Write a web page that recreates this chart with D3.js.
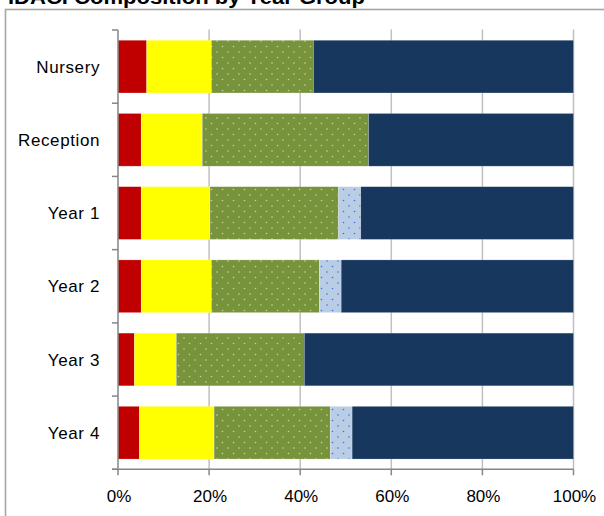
<!DOCTYPE html>
<meta charset="utf-8" />
<style>
  body {
    margin: 0;
    background: #fff;
  }
  text {
    font-family: "Liberation Sans", Arial, sans-serif;
    fill: #000;
  }
  .title {
    font-weight: bold;
    font-size: 20px;
  }
  .cat {
    font-size: 17px;
    letter-spacing: 0.6px;
  }
  .tick-label {
    font-size: 17px;
  }
</style>
<svg width="604" height="516"></svg>
<script src="https://d3js.org/d3.v7.min.js"></script>
<script>
  var categories = ["Nursery", "Reception", "Year 1", "Year 2", "Year 3", "Year 4"];
  var seriesKeys = ["band1", "band2", "band3", "band4", "band5"];
  var band1 = [6.3, 5.1, 5.1, 5.1, 3.6, 4.7];
  var band2 = [14.2, 13.4, 15.1, 15.4, 9.2, 16.4];
  var band3 = [22.4, 36.5, 28.2, 23.7, 28.1, 25.5];
  var band4 = [0, 0, 4.9, 4.8, 0, 4.8];
  var band5 = [57.1, 45.0, 46.7, 51.0, 59.1, 48.6];
  var xTicks = [0, 20, 40, 60, 80, 100];

  var fills = {
    band1: "#c00000",
    band2: "#ffff00",
    band3: "url(#dotGreen)",
    band4: "url(#dotBlue)",
    band5: "#17375e"
  };

  var rows = categories.map((c, i) => ({
    cat: c,
    band1: band1[i],
    band2: band2[i],
    band3: band3[i],
    band4: band4[i],
    band5: band5[i]
  }));

  var svg = d3.select("svg");

  // dotted fills, like the Excel 5% pattern
  var defs = svg.append("defs");
  function dots(id, bg, dot) {
    var p = defs
      .append("pattern")
      .attr("id", id)
      .attr("patternUnits", "userSpaceOnUse")
      .attr("width", 11)
      .attr("height", 11);
    p.append("rect").attr("width", 11).attr("height", 11).attr("fill", bg);
    p.append("circle").attr("cx", 2.5).attr("cy", 2.5).attr("r", 0.8).attr("fill", dot);
    p.append("circle").attr("cx", 8).attr("cy", 8).attr("r", 0.8).attr("fill", dot);
  }
  dots("dotGreen", "#77933c", "#c4d79b");
  dots("dotBlue", "#b9cde5", "#3c6ef0");

  // chart frame (cropped in the picture)
  svg
    .append("rect")
    .attr("x", 5.5)
    .attr("y", 9.5)
    .attr("width", 700)
    .attr("height", 600)
    .attr("fill", "none")
    .attr("stroke", "#a6a6a6")
    .attr("stroke-width", 1.6);

  svg
    .append("text")
    .attr("class", "title")
    .attr("x", 8)
    .attr("y", 4)
    .attr("textLength", 357)
    .attr("lengthAdjust", "spacingAndGlyphs")
    .text("IDACI Composition by Year Group");

  var x = d3.scaleLinear().domain([0, 100]).range([118, 573.5]);
  var y = d3
    .scaleBand()
    .domain(categories)
    .range([30, 469.3])
    .paddingInner(0.28)
    .paddingOuter(0.14);

  // vertical gridlines
  svg
    .append("g")
    .selectAll("line")
    .data(xTicks.slice(1))
    .join("line")
    .attr("x1", d => x(d))
    .attr("x2", d => x(d))
    .attr("y1", 29.5)
    .attr("y2", 469.3)
    .attr("stroke", "#c0c0c0")
    .attr("stroke-width", 1.5);

  // stacked bars
  var stack = d3.stack().keys(seriesKeys)(rows);
  svg
    .append("g")
    .selectAll("g")
    .data(stack)
    .join("g")
    .attr("fill", d => fills[d.key])
    .selectAll("rect")
    .data(d => d.filter(s => s[1] - s[0] > 0))
    .join("rect")
    .attr("x", d => x(d[0]))
    .attr("width", d => x(d[1]) - x(d[0]))
    .attr("y", d => y(d.data.cat))
    .attr("height", y.bandwidth())
    .attr("stroke", "rgba(255,255,255,0.35)")
    .attr("stroke-width", 0.6);

  // category axis: line, boundary ticks, labels
  var axisColor = "#868686";
  var boundaries = d3.range(categories.length + 1).map(i => y.range()[0] + i * y.step());
  var yAxis = svg.append("g");
  yAxis
    .append("line")
    .attr("x1", x(0))
    .attr("x2", x(0))
    .attr("y1", y.range()[0])
    .attr("y2", y.range()[1])
    .attr("stroke", axisColor)
    .attr("stroke-width", 1.5);
  yAxis
    .selectAll(".btick")
    .data(boundaries)
    .join("line")
    .attr("class", "btick")
    .attr("x1", x(0) - 6)
    .attr("x2", x(0))
    .attr("y1", d => d)
    .attr("y2", d => d)
    .attr("stroke", axisColor)
    .attr("stroke-width", 1.5);
  yAxis
    .selectAll("text")
    .data(categories)
    .join("text")
    .attr("class", "cat")
    .attr("x", 100)
    .attr("y", d => y(d) + y.bandwidth() / 2)
    .attr("dy", "0.36em")
    .attr("text-anchor", "end")
    .text(d => d);

  // value axis
  var xAxis = svg.append("g");
  xAxis
    .append("line")
    .attr("x1", x(0) - 6)
    .attr("x2", x(100))
    .attr("y1", y.range()[1])
    .attr("y2", y.range()[1])
    .attr("stroke", axisColor)
    .attr("stroke-width", 1.5);
  xAxis
    .selectAll(".xtick")
    .data(xTicks)
    .join("line")
    .attr("class", "xtick")
    .attr("x1", d => x(d))
    .attr("x2", d => x(d))
    .attr("y1", y.range()[1])
    .attr("y2", y.range()[1] + 6)
    .attr("stroke", axisColor)
    .attr("stroke-width", 1.5);
  xAxis
    .selectAll("text")
    .data(xTicks)
    .join("text")
    .attr("class", "tick-label")
    .attr("x", d => x(d) + 1)
    .attr("y", 502)
    .attr("text-anchor", "middle")
    .text(d => d + "%");
</script>
